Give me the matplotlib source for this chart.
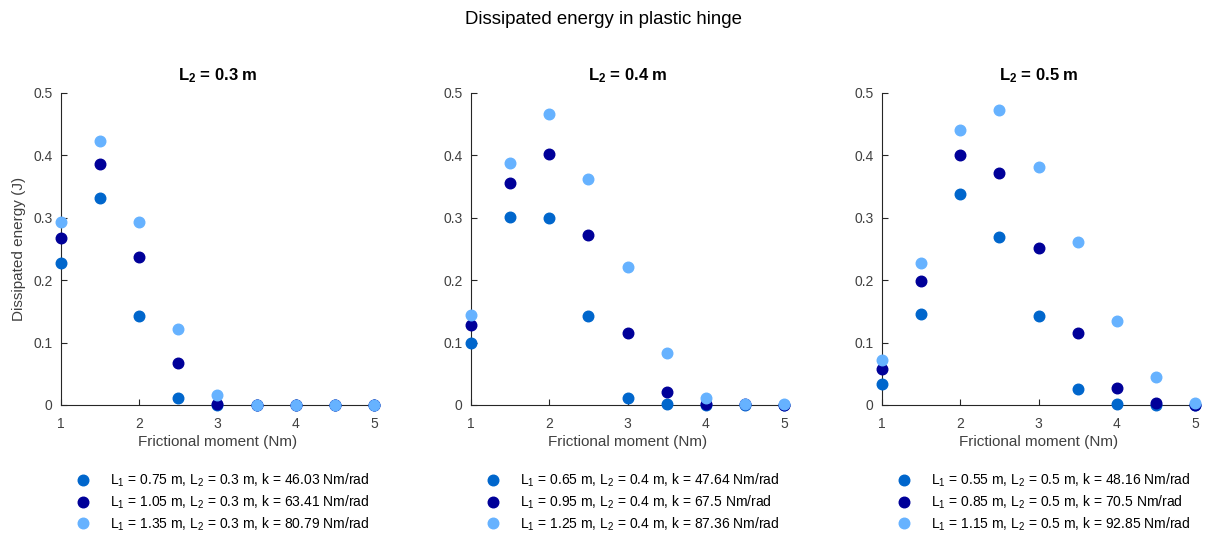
import matplotlib
matplotlib.use("Agg")
import matplotlib.pyplot as plt

plt.rcParams["font.family"] = ["Liberation Sans", "DejaVu Sans"]
plt.rcParams["mathtext.fontset"] = "custom"
plt.rcParams["mathtext.rm"] = "Liberation Sans"
plt.rcParams["mathtext.it"] = "Liberation Sans"
plt.rcParams["mathtext.bf"] = "Liberation Sans:bold"

moment = [1, 1.5, 2, 2.5, 3, 3.5, 4, 4.5, 5]

l2_values = ["0.3", "0.4", "0.5"]

# L2 = 0.3 m
e03_a = [0.228, 0.332, 0.142, 0.012, 0.000, 0.000, 0.000, 0.000, 0.000]
e03_b = [0.268, 0.387, 0.237, 0.068, 0.002, 0.000, 0.000, 0.000, 0.000]
e03_c = [0.294, 0.423, 0.294, 0.121, 0.016, 0.000, 0.000, 0.000, 0.000]

# L2 = 0.4 m
e04_a = [0.100, 0.301, 0.300, 0.142, 0.012, 0.002, 0.000, 0.000, 0.000]
e04_b = [0.128, 0.355, 0.403, 0.273, 0.116, 0.021, 0.001, 0.001, 0.000]
e04_c = [0.145, 0.388, 0.467, 0.362, 0.221, 0.084, 0.012, 0.002, 0.001]

# L2 = 0.5 m
e05_a = [0.034, 0.146, 0.338, 0.270, 0.143, 0.025, 0.002, 0.000, 0.000]
e05_b = [0.058, 0.198, 0.400, 0.372, 0.252, 0.115, 0.028, 0.003, 0.000]
e05_c = [0.072, 0.227, 0.440, 0.473, 0.381, 0.262, 0.134, 0.045, 0.004]

l1_values = [["0.75", "1.05", "1.35"], ["0.65", "0.95", "1.25"], ["0.55", "0.85", "1.15"]]
k_values = [["46.03", "63.41", "80.79"], ["47.64", "67.5", "87.36"], ["48.16", "70.5", "92.85"]]

energy = [[e03_a, e03_b, e03_c], [e04_a, e04_b, e04_c], [e05_a, e05_b, e05_c]]
colors = ["#0066cc", "#000099", "#66b2ff"]

x_ticks = [1, 2, 3, 4, 5]
y_ticks = [0, 0.1, 0.2, 0.3, 0.4, 0.5]
y_tick_labels = ["0", "0.1", "0.2", "0.3", "0.4", "0.5"]

fig = plt.figure(figsize=(12.07, 5.35), dpi=100)
W, H = 1207, 535
lefts = [61, 471, 882]
ax_w, top, bottom = 313, 93, 405

axis_color = "#262626"
tick_text = "#404040"

for i in range(3):
    ax = fig.add_axes([lefts[i] / W, 1 - bottom / H, ax_w / W, (bottom - top) / H])
    for j in range(3):
        label = (r"L$_1$ = " + l1_values[i][j] + r" m, L$_2$ = " + l2_values[i]
                 + " m, k = " + k_values[i][j] + " Nm/rad")
        ax.plot(moment, energy[i][j], linestyle="none", marker="o", markersize=7.6,
                color=colors[j], clip_on=False, zorder=3 + j, label=label)
    ax.set_xlim(1, 5)
    ax.set_ylim(0, 0.5)
    ax.set_xticks(x_ticks)
    ax.set_yticks(y_ticks)
    ax.set_yticklabels(y_tick_labels)
    ax.spines["top"].set_visible(False)
    ax.spines["right"].set_visible(False)
    for s in ("left", "bottom"):
        ax.spines[s].set_color(axis_color)
        ax.spines[s].set_linewidth(0.8)
    ax.tick_params(direction="in", length=4, width=0.8, colors=axis_color,
                   labelcolor=tick_text, labelsize=10)
    ax.tick_params(axis="x", pad=8.5)
    ax.tick_params(axis="y", pad=6)
    ax.set_xlabel("Frictional moment (Nm)", fontsize=11, color=tick_text, labelpad=3)
    if i == 0:
        ax.set_ylabel("Dissipated energy (J)", fontsize=11, color=tick_text, labelpad=5)
    ax.set_title(r"L$_\mathbf{2}$ = " + l2_values[i] + " m", fontsize=12,
                 fontweight="bold", pad=9)
    ax.legend(loc="upper left", bbox_to_anchor=(0.044, -0.215), frameon=False,
              fontsize=10, handlelength=1.2, handletextpad=1.34, labelspacing=0.3,
              borderaxespad=0, borderpad=0)

fig.suptitle("Dissipated energy in plastic hinge", fontsize=13.4, y=1 - 20 / H, va="center")

fig.savefig("out.png", dpi=100, facecolor="white")
